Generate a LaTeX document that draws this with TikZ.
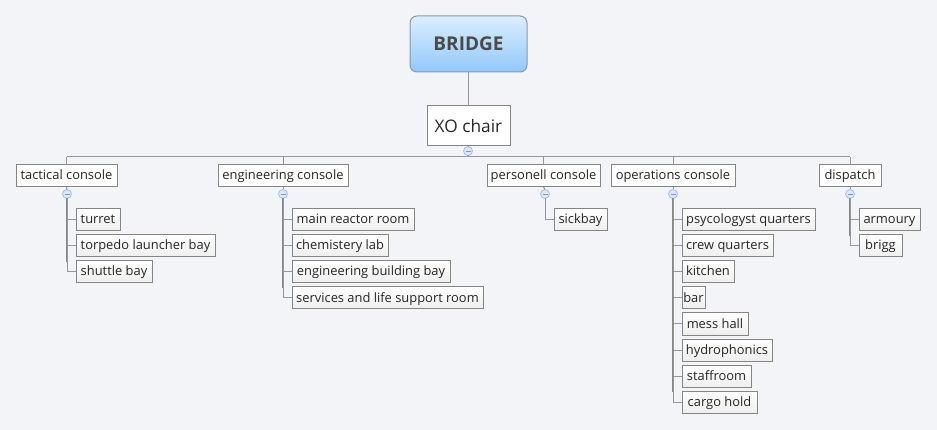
\documentclass[tikz,border=0pt]{standalone}
\usepackage{fontspec}
\setmainfont{Open Sans}
\definecolor{bg}{HTML}{F3F4F8}
\definecolor{bordergray}{HTML}{858585}
\definecolor{linegray}{HTML}{969696}
\definecolor{bridgetop}{HTML}{DCEEFF}
\definecolor{bridgebot}{HTML}{92C8FA}
\definecolor{bridgeborder}{HTML}{8C98A6}
\definecolor{bridgetext}{HTML}{4A4A4A}
\definecolor{circfill}{HTML}{DCE8FB}
\definecolor{circborder}{HTML}{A3BFEC}
\definecolor{circminus}{HTML}{7597D8}
\definecolor{childbot}{HTML}{EEEEEE}
\begin{document}
\begin{tikzpicture}[x=1pt,y=-1pt,
  every node/.style={outer sep=0pt, inner sep=0pt},
  rootbox/.style={draw=bridgeborder, line width=1pt, rounded corners=7pt,
    top color=bridgetop, bottom color=bridgebot, anchor=north west,
    minimum height=56pt, font=\fontsize{19}{22}\selectfont\bfseries, text=bridgetext},
  xobox/.style={draw=bordergray, line width=1pt, fill=white, anchor=north west,
    minimum height=40pt, font=\fontsize{17.3}{20}\selectfont, text=black!85},
  lonebox/.style={draw=bordergray, line width=1pt, fill=white, anchor=north west,
    minimum height=22pt, text height=11pt, text depth=3pt,
    font=\fontsize{12.9}{15}\selectfont, text=black!85},
  leafbox/.style={draw=bordergray, line width=1pt, top color=white, bottom color=childbot,
    anchor=north west, minimum height=22pt, text height=11pt, text depth=3pt,
    font=\fontsize{12.9}{15}\selectfont, text=black!85},
  toggle/.style={circle, draw=circborder, fill=circfill, line width=0.8pt, minimum size=9pt,
    path picture={\draw[circminus, line width=0.8pt] ([xshift=-2.5pt]path picture bounding box.center) -- ([xshift=2.5pt]path picture bounding box.center);}},
  conn/.style={draw=linegray, line width=1pt},
  trunk/.style={draw=linegray!90!black, line width=1.6pt},
]
\fill[bg] (0,0) rectangle (937,430);
\useasboundingbox (0,0) rectangle (937,430);

% root and XO
\node[rootbox, minimum width=117pt] (bridge) at (410,16) {BRIDGE};
\node[xobox, minimum width=83pt] (xo) at (427,106) {XO chair};
\node[toggle] (c0) at (468,151) {};
\coordinate (h0) at (468,157);

% level 1
\node[lonebox, minimum width=101pt] (tac) at (16,165) {tactical console};
\node[lonebox, minimum width=130pt] (eng) at (218,165) {engineering console};
\node[lonebox, minimum width=113pt] (per) at (487,165) {personell console};
\node[lonebox, minimum width=124pt] (ops) at (611,165) {operations console};
\node[lonebox, minimum width=62pt] (dis) at (819,165) {dispatch};

% toggles
\node[toggle] (c1) at (67,194) {};
\node[toggle] (c2) at (283,194) {};
\node[toggle] (c3) at (545,194) {};
\node[toggle] (c4) at (673,194) {};
\node[toggle] (c5) at (850,194) {};

% leaves: tactical
\node[leafbox, minimum width=44pt] (t1) at (76,209) {turret};
\node[leafbox, minimum width=139pt] (t2) at (76,235) {torpedo launcher bay};
\node[leafbox, minimum width=76pt] (t3) at (76,261) {shuttle bay};
% engineering
\node[leafbox, minimum width=122pt] (e1) at (292,209) {main reactor room};
\node[leafbox, minimum width=96pt] (e2) at (292,235) {chemistery lab};
\node[leafbox, minimum width=158pt] (e3) at (292,261) {engineering building bay};
\node[leafbox, minimum width=191pt] (e4) at (292,287) {services and life support room};
% personnel
\node[leafbox, minimum width=53pt] (p1) at (554,209) {sickbay};
% operations
\node[leafbox, minimum width=133pt] (o1) at (682,209) {psycologyst quarters};
\node[leafbox, minimum width=91pt] (o2) at (682,235) {crew quarters};
\node[leafbox, minimum width=52pt] (o3) at (682,261) {kitchen};
\node[leafbox, minimum width=23pt] (o4) at (682,287) {bar};
\node[leafbox, minimum width=66pt] (o5) at (682,313) {mess hall};
\node[leafbox, minimum width=90pt] (o6) at (682,339) {hydrophonics};
\node[leafbox, minimum width=69pt] (o7) at (682,365) {staffroom};
\node[leafbox, minimum width=75pt] (o8) at (682,391) {cargo hold};
% dispatch
\node[leafbox, minimum width=61pt] (d1) at (859,209) {armoury};
\node[leafbox, minimum width=43pt] (d2) at (859,235) {brigg};

% connectors root
\draw[conn] (bridge.south) -- (xo.north);
\draw[conn] (xo.south) -- (c0.north);
\draw[conn] (c0.south) -- (h0);
\draw[conn] ([yshift=8pt]tac.north) -- ([yshift=8pt]dis.north);
\foreach \n in {tac,eng,per,ops,dis} {
  \draw[conn] (\n.north) -- ([yshift=8pt]\n.north);
}
% level1 to toggles
\draw[conn] (tac.south) -- (c1.north);
\draw[conn] (eng.south) -- (c2.north);
\draw[conn] (per.south) -- (c3.north);
\draw[conn] (ops.south) -- (c4.north);
\draw[conn] (dis.south) -- (c5.north);

% children
\draw[trunk] (c1.south) -- ([yshift=10pt]c1.south |- t3.west);
\foreach \n in {t1,t2,t3} { \draw[conn] (c1.south) |- (\n.west); }
\draw[trunk] (c2.south) -- ([yshift=10pt]c2.south |- e4.west);
\foreach \n in {e1,e2,e3,e4} { \draw[conn] (c2.south) |- (\n.west); }
\foreach \n in {p1} { \draw[conn] (c3.south) |- (\n.west); }
\draw[trunk] (c4.south) -- ([yshift=10pt]c4.south |- o8.west);
\foreach \n in {o1,o2,o3,o4,o5,o6,o7,o8} { \draw[conn] (c4.south) |- (\n.west); }
\draw[trunk] (c5.south) -- ([yshift=10pt]c5.south |- d2.west);
\foreach \n in {d1,d2} { \draw[conn] (c5.south) |- (\n.west); }
\end{tikzpicture}
\end{document}
